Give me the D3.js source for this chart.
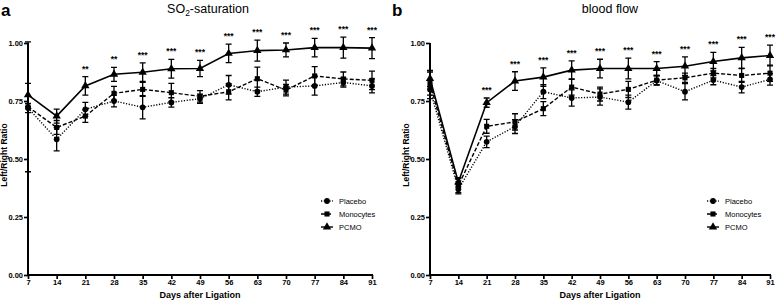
<!DOCTYPE html>
<html><head><meta charset="utf-8">
<script src="https://cdn.jsdelivr.net/npm/d3@7"></script>
<style>
html,body{margin:0;padding:0;background:#fff;}
svg{display:block;font-family:"Liberation Sans",Arial,sans-serif;}
</style></head>
<body>
<svg id="chart" width="779" height="301"></svg>
<script>
const days = [7,14,21,28,35,42,49,56,63,70,77,84,91];
const yTicks = [0,0.25,0.5,0.75,1];
const seriesNames = ["Placebo","Monocytes","PCMO"];

// Panel a: SO2-saturation
const aPlacebo   = [0.72,0.585,0.714,0.75,0.723,0.744,0.76,0.82,0.79,0.81,0.815,0.83,0.815];
const aPlaceboE  = [0.02,0.05,0.03,0.025,0.05,0.02,0.02,0.04,0.02,0.03,0.04,0.02,0.03];
const aMono      = [0.725,0.636,0.685,0.783,0.80,0.786,0.77,0.79,0.846,0.797,0.858,0.845,0.839];
const aMonoE     = [0.28,0.03,0.027,0.03,0.03,0.04,0.025,0.035,0.05,0.025,0.04,0.03,0.04];
const aPcmo      = [0.776,0.685,0.815,0.865,0.874,0.889,0.89,0.955,0.967,0.97,0.98,0.98,0.978];
const aPcmoE     = [0.05,0.03,0.04,0.03,0.04,0.04,0.035,0.04,0.045,0.03,0.04,0.045,0.045];
const aStars     = ["","","**","**","***","***","***","***","***","***","***","***","***"];

// Panel b: blood flow
const bPlacebo   = [0.80,0.37,0.574,0.64,0.79,0.763,0.767,0.745,0.838,0.79,0.84,0.81,0.843];
const bPlaceboE  = [0.04,0.02,0.025,0.03,0.03,0.035,0.035,0.03,0.02,0.035,0.02,0.025,0.025];
const bMono      = [0.825,0.385,0.641,0.66,0.717,0.81,0.78,0.80,0.84,0.85,0.87,0.86,0.87];
const bMonoE     = [0.05,0.03,0.03,0.035,0.03,0.035,0.03,0.035,0.02,0.02,0.02,0.03,0.035];
const bPcmo      = [0.847,0.40,0.743,0.836,0.853,0.883,0.89,0.89,0.89,0.90,0.92,0.936,0.946];
const bPcmoE     = [0.035,0.02,0.02,0.04,0.04,0.04,0.04,0.045,0.03,0.04,0.04,0.045,0.045];
const bStars     = ["","","***","***","***","***","***","***","***","***","***","***","***"];

const svg = d3.select("#chart");
const styles = {
  Placebo:   {dash:"1.2,1.6", sym:d3.symbolCircle, size:26},
  Monocytes: {dash:"4,2", sym:d3.symbolSquare, size:26},
  PCMO:      {dash:null, sym:d3.symbolTriangle, size:30}
};

function panel(opts){
  const g = svg.append("g");
  const x = d3.scaleLinear().domain([7,91]).range([opts.x0,opts.x1]);
  const y = d3.scaleLinear().domain([0,1]).range([275,43]);

  const ya = d3.axisLeft(y).tickValues(yTicks).tickFormat(d3.format(".2f")).tickSize(4).tickPadding(1);
  const ygr = g.append("g").attr("transform",`translate(${opts.x0},0)`).call(ya);
  const xa = d3.axisBottom(x).tickValues(days).tickFormat(d3.format("d")).tickSize(4).tickPadding(0);
  const xgr = g.append("g").attr("transform",`translate(0,275)`).call(xa);
  [ygr,xgr].forEach(a=>{
    a.select(".domain").attr("stroke","#000").attr("stroke-width",2);
    a.selectAll(".tick line").attr("stroke","#000").attr("stroke-width",1.7);
    a.selectAll(".tick text").attr("font-size",7.5).attr("font-weight","bold").attr("fill","#000");
  });
  ygr.select(".domain").attr("d",`M0,${y(1)}V${y(0)+1}`);
  xgr.select(".domain").attr("d",`M${opts.x0-1},0H${opts.x1+1}`);
  xgr.selectAll(".tick text").attr("dy","0.85em");

  g.append("text").attr("transform",`translate(${opts.x0-21},155) rotate(-90)`)
    .attr("text-anchor","middle").attr("font-size",8.5).attr("font-weight","bold").text("Left/Right Ratio");
  g.append("text").attr("x",(opts.x0+opts.x1)/2).attr("y",298).attr("text-anchor","middle")
    .attr("font-size",9).attr("font-weight","bold").text("Days after Ligation");

  const t = g.append("text").attr("x",opts.titleX).attr("y",13).attr("text-anchor","middle").attr("font-size",12.5);
  if(opts.title==="SO2"){
    t.append("tspan").text("SO");
    t.append("tspan").attr("font-size",8.5).attr("dy",3).text("2");
    t.append("tspan").attr("dy",-3).text("-saturation");
  } else t.text(opts.title);
  g.append("text").attr("x",opts.letterX).attr("y",16).attr("font-size",17).attr("font-weight","bold").text(opts.letter);

  opts.series.forEach(s=>{
    const st = styles[s.name];
    const sg = g.append("g");
    const line = d3.line().x((d,i)=>x(days[i])).y(d=>y(d));
    sg.append("path").attr("d",line(s.vals)).attr("fill","none").attr("stroke","#000")
      .attr("stroke-width",s.name==="PCMO"?1.6:1.4).attr("stroke-dasharray",st.dash);
    s.vals.forEach((v,i)=>{
      const cx = x(days[i]), e = s.err[i];
      sg.append("path").attr("d",`M${cx},${y(v+e)}V${y(v-e)}M${cx-3},${y(v+e)}H${cx+3}M${cx-3},${y(v-e)}H${cx+3}`)
        .attr("stroke","#000").attr("stroke-width",1.3).attr("fill","none");
      sg.append("path").attr("d",d3.symbol().type(st.sym).size(st.size)()).attr("transform",`translate(${cx},${y(v)})`).attr("fill","#000");
    });
  });

  const pc = opts.series.find(s=>s.name==="PCMO");
  opts.stars.forEach((s,i)=>{
    if(!s) return;
    g.append("text").attr("x",x(days[i])).attr("y",y(pc.vals[i]+pc.err[i])-5)
      .attr("text-anchor","middle").attr("font-size",8.5).attr("font-weight","bold").text(s);
  });

  seriesNames.forEach((n,i)=>{
    const st = styles[n];
    const ly = opts.legY + i*13;
    g.append("path").attr("d",`M${opts.legX},${ly}h12`).attr("stroke","#000").attr("stroke-width",1.4).attr("stroke-dasharray",st.dash);
    g.append("path").attr("d",d3.symbol().type(st.sym).size(st.size)()).attr("transform",`translate(${opts.legX+6},${ly})`);
    g.append("text").attr("x",opts.legX+18).attr("y",ly+3).attr("font-size",7.5).text(n);
  });
}

panel({x0:28,x1:372,title:"SO2",titleX:208,letter:"a",letterX:1,legX:321,legY:201,
  series:[{name:"Placebo",vals:aPlacebo,err:aPlaceboE},{name:"Monocytes",vals:aMono,err:aMonoE},{name:"PCMO",vals:aPcmo,err:aPcmoE}],
  stars:aStars});
panel({x0:430,x1:770,title:"blood flow",titleX:610,letter:"b",letterX:392,legY:201,legX:707,
  series:[{name:"Placebo",vals:bPlacebo,err:bPlaceboE},{name:"Monocytes",vals:bMono,err:bMonoE},{name:"PCMO",vals:bPcmo,err:bPcmoE}],
  stars:bStars});
</script>
</body></html>
